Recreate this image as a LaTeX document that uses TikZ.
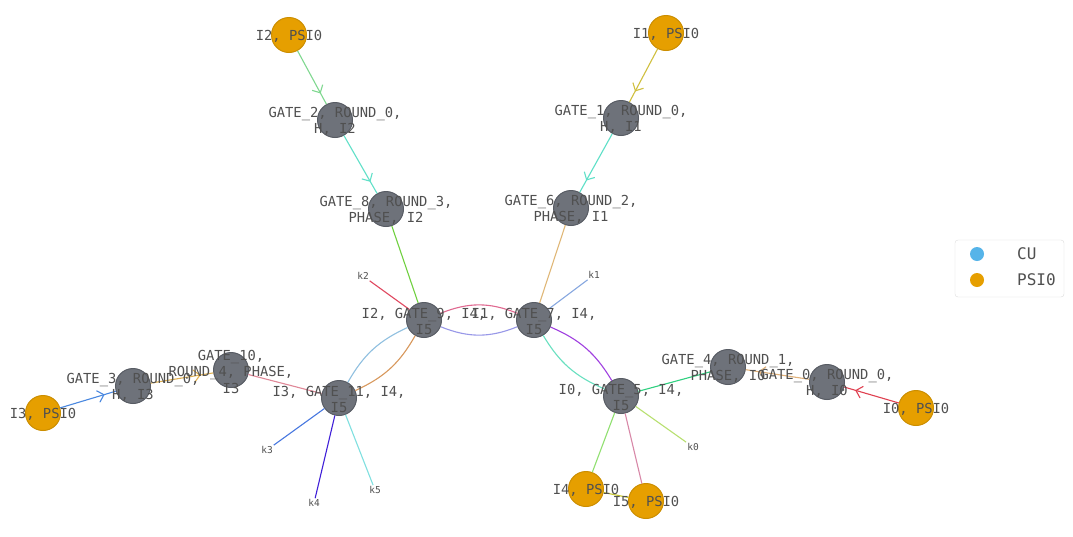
\documentclass[tikz,border=0pt]{standalone}
\usepackage{fontspec}
\newfontfamily\monofont{DejaVu Sans Mono}
\usetikzlibrary{arrows.meta,decorations.markings}

\definecolor{gategray}{HTML}{6E727A}
\definecolor{gateline}{HTML}{585C64}
\definecolor{psiorange}{HTML}{E69F00}
\definecolor{psiline}{HTML}{CC8E00}
\definecolor{cublue}{HTML}{56B4E9}
\definecolor{labelgray}{HTML}{505050}

\tikzset{
  gate/.style={circle, inner sep=0pt, minimum size=35pt, fill=gategray, draw=gateline, line width=1pt},
  psi/.style={circle, inner sep=0pt, minimum size=35pt, fill=psiorange, draw=psiline, line width=1pt},
  lbl/.style={text=labelgray, align=center, inner sep=0pt, yshift=-1.5pt, font=\monofont\fontsize{13.8}{16.5}\selectfont},
  klbl/.style={text=labelgray, inner sep=1pt, font=\monofont\fontsize{9.5}{11}\selectfont},
  link/.style={line width=1.1pt},
  flow/.style={link, postaction={decorate}, decoration={markings,
    mark=at position 0.8 with {\arrow{Straight Barb[length=6pt,width=12pt]}}}},
}

\begin{document}
\begin{tikzpicture}[x=1pt,y=-1pt]
  \useasboundingbox[fill=white] (0,0) rectangle (1073,536);

  %%%%% NODES %%%%%
  \node[psi]  (i2psi) at (289,35)  {};
  \node[gate] (g2)    at (335,120) {};
  \node[gate] (g8)    at (386,209) {};
  \node[gate] (g9)    at (424,320) {};

  \node[psi]  (i1psi) at (666,33)  {};
  \node[gate] (g1)    at (621,118) {};
  \node[gate] (g6)    at (571,208) {};
  \node[gate] (g7)    at (534,320) {};

  \node[psi]  (i3psi) at (43,413)  {};
  \node[gate] (g3)    at (133,386) {};
  \node[gate] (g10)   at (231,370) {};
  \node[gate] (g11)   at (339,398) {};

  \node[psi]  (i0psi) at (916,408) {};
  \node[gate] (g0)    at (827,382) {};
  \node[gate] (g4)    at (728,367) {};
  \node[gate] (g5)    at (621,396) {};

  \node[psi]  (i4psi) at (586,489) {};
  \node[psi]  (i5psi) at (646,501) {};

  \node[klbl] (k0) at (693,447) {k0};
  \node[klbl] (k1) at (594,275) {k1};
  \node[klbl] (k2) at (363,276) {k2};
  \node[klbl] (k3) at (267,450) {k3};
  \node[klbl] (k4) at (314,503) {k4};
  \node[klbl] (k5) at (375,490) {k5};

  %%%%% EDGES %%%%%
  \draw[flow, color={rgb,255:red,128;green,216;blue,144}] (i2psi) -- (g2);
  \draw[flow, color={rgb,255:red,96;green,224;blue,200}] (g2) -- (g8);
  \draw[link, color={rgb,255:red,112;green,208;blue,64}] (g8) -- (g9);

  \draw[flow, color={rgb,255:red,208;green,192;blue,64}] (i1psi) -- (g1);
  \draw[flow, color={rgb,255:red,96;green,224;blue,200}] (g1) -- (g6);
  \draw[link, color={rgb,255:red,224;green,184;blue,120}] (g6) -- (g7);

  \draw[link, color={rgb,255:red,224;green,72;blue,96}] (g9) -- (k2);
  \draw[link, color={rgb,255:red,136;green,168;blue,224}] (g7) -- (k1);

  \draw[link, color={rgb,255:red,224;green,104;blue,144}] (g9) to[bend left=22] (g7);
  \draw[link, color={rgb,255:red,152;green,152;blue,232}] (g9) to[bend right=22] (g7);

  \draw[link, color={rgb,255:red,144;green,192;blue,224}] (g9) to[bend right=18] (g11);
  \draw[link, color={rgb,255:red,216;green,152;blue,92}] (g9) to[bend left=18] (g11);

  \draw[link, color={rgb,255:red,104;green,224;blue,192}] (g7) to[bend right=18] (g5);
  \draw[link, color={rgb,255:red,160;green,64;blue,224}] (g7) to[bend left=18] (g5);

  \draw[flow, color={rgb,255:red,74;green,136;blue,224}] (i3psi) -- (g3);
  \draw[flow, color={rgb,255:red,224;green,176;blue,80}] (g3) -- (g10);
  \draw[link, color={rgb,255:red,224;green,136;blue,152}] (g10) -- (g11);

  \draw[link, color={rgb,255:red,72;green,120;blue,224}] (g11) -- (k3);
  \draw[link, color={rgb,255:red,64;green,32;blue,216}] (g11) -- (k4);
  \draw[link, color={rgb,255:red,128;green,224;blue,224}] (g11) -- (k5);

  \draw[flow, color={rgb,255:red,224;green,64;blue,80}] (i0psi) -- (g0);
  \draw[flow, color={rgb,255:red,224;green,176;blue,120}] (g0) -- (g4);
  \draw[link, color={rgb,255:red,48;green,208;blue,128}] (g5) -- (g4);

  \draw[link, color={rgb,255:red,184;green,224;blue,112}] (g5) -- (k0);
  \draw[link, color={rgb,255:red,144;green,224;blue,112}] (g5) -- (i4psi);
  \draw[link, color={rgb,255:red,216;green,136;blue,168}] (g5) -- (i5psi);
  \draw[link, color={rgb,255:red,200;green,200;blue,48}] (i4psi) -- (i5psi);

  %%%%% LABELS %%%%%
  \node[lbl] (i2psi-t) at (i2psi) {I2, PSI0};
  \node[lbl] (g2-t)    at (g2)    {GATE\_2, ROUND\_0,\\H, I2};
  \node[lbl] (g8-t)    at (g8)    {GATE\_8, ROUND\_3,\\PHASE, I2};
  \node[lbl] (g9-t)    at (g9)    {I2, GATE\_9, I4,\\I5};
  \node[lbl] (i1psi-t) at (i1psi) {I1, PSI0};
  \node[lbl] (g1-t)    at (g1)    {GATE\_1, ROUND\_0,\\H, I1};
  \node[lbl] (g6-t)    at (g6)    {GATE\_6, ROUND\_2,\\PHASE, I1};
  \node[lbl] (g7-t)    at (g7)    {I1, GATE\_7, I4,\\I5};
  \node[lbl] (i3psi-t) at (i3psi) {I3, PSI0};
  \node[lbl] (g3-t)    at (g3)    {GATE\_3, ROUND\_0,\\H, I3};
  \node[lbl] (g10-t)   at (g10)   {GATE\_10,\\ROUND\_4, PHASE,\\I3};
  \node[lbl] (g11-t)   at (g11)   {I3, GATE\_11, I4,\\I5};
  \node[lbl] (i0psi-t) at (i0psi) {I0, PSI0};
  \node[lbl] (g0-t)    at (g0)    {GATE\_0, ROUND\_0,\\H, I0};
  \node[lbl] (g4-t)    at (g4)    {GATE\_4, ROUND\_1,\\PHASE, I0};
  \node[lbl] (g5-t)    at (g5)    {I0, GATE\_5, I4,\\I5};
  \node[lbl] (i4psi-t) at (i4psi) {I4, PSI0};
  \node[lbl] (i5psi-t) at (i5psi) {I5, PSI0};

  %%%%% LEGEND %%%%%
  \draw[draw={rgb,255:red,221;green,221;blue,221}, fill=white, rounded corners=3pt] (955,240) rectangle (1064,297);
  \node[circle, inner sep=0pt, minimum size=14pt, fill=cublue] (leg-cu) at (977,254) {};
  \node[circle, inner sep=0pt, minimum size=14pt, fill=psiorange] (leg-psi) at (977,280) {};
  \node[text=labelgray, anchor=west, inner sep=0pt, font=\monofont\fontsize{16}{19}\selectfont] (leg-cu-t) at (1017,254) {CU};
  \node[text=labelgray, anchor=west, inner sep=0pt, font=\monofont\fontsize{16}{19}\selectfont] (leg-psi-t) at (1017,280) {PSI0};
\end{tikzpicture}
\end{document}
